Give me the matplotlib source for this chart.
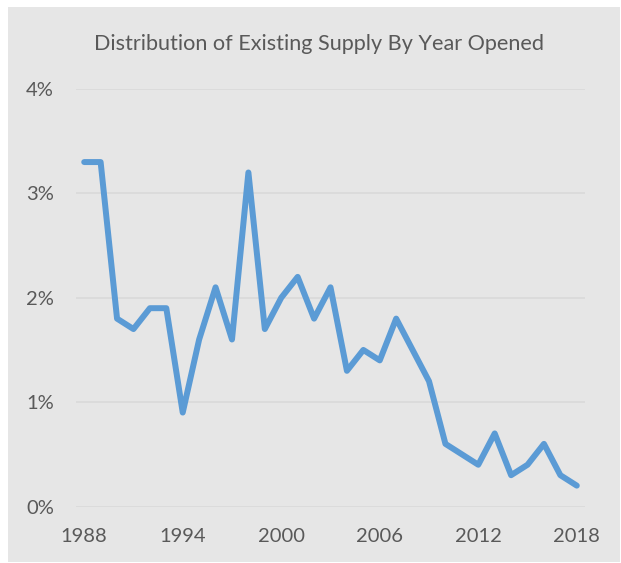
import matplotlib
matplotlib.use("Agg")
import matplotlib.pyplot as plt
from matplotlib.patches import Rectangle
from matplotlib.ticker import FuncFormatter

years = list(range(1988, 2019))
share = [3.3, 3.3, 1.8, 1.7, 1.9, 1.9, 0.9, 1.6, 2.1, 1.6, 3.2, 1.7, 2.0, 2.2,
         1.8, 2.1, 1.3, 1.5, 1.4, 1.8, 1.5, 1.2, 0.6, 0.5, 0.4, 0.7, 0.3, 0.4,
         0.6, 0.3, 0.2]
xticks = [1988, 1994, 2000, 2006, 2012, 2018]
yticks = [0, 1, 2, 3, 4]
title = "Distribution of Existing Supply By Year Opened"

plt.rcParams['font.family'] = ['Lato', 'DejaVu Sans']
bg = "#e6e6e6"
txt = "#595959"

fig = plt.figure(figsize=(6.21, 5.63), dpi=100)
fig.patch.set_facecolor("white")
fig.patches.append(Rectangle((8/621, 1/563), 612/621, 555/563, transform=fig.transFigure,
                             facecolor=bg, edgecolor="none", zorder=-5))

ax = fig.add_axes([76/621, 1 - 506.5/563, 509/621, (506.5 - 89)/563])
ax.set_zorder(2)
ax.set_facecolor(bg)
ax.plot(years, share, color="#5b9bd5", lw=4.3, solid_joinstyle="round",
        solid_capstyle="round", zorder=3)
ax.set_xlim(1987.5, 2018.5)
ax.set_ylim(0, 4)
ax.set_xticks(xticks)
ax.set_yticks(yticks)
ax.yaxis.set_major_formatter(FuncFormatter(lambda v, p: f"{v:.0f}%"))
ax.grid(axis="y", color="#d9d9d9", lw=1.2, zorder=1)
for s in ax.spines.values():
    s.set_visible(False)
ax.tick_params(axis="both", length=0, labelsize=14.5, colors=txt)
ax.tick_params(axis="y", pad=16)
ax.tick_params(axis="x", pad=15.5)
fig.text(319/621, 1 - 44/563, title, ha="center", va="center", fontsize=15.6, color=txt)

fig.savefig("out.png", dpi=100, facecolor=fig.get_facecolor())
